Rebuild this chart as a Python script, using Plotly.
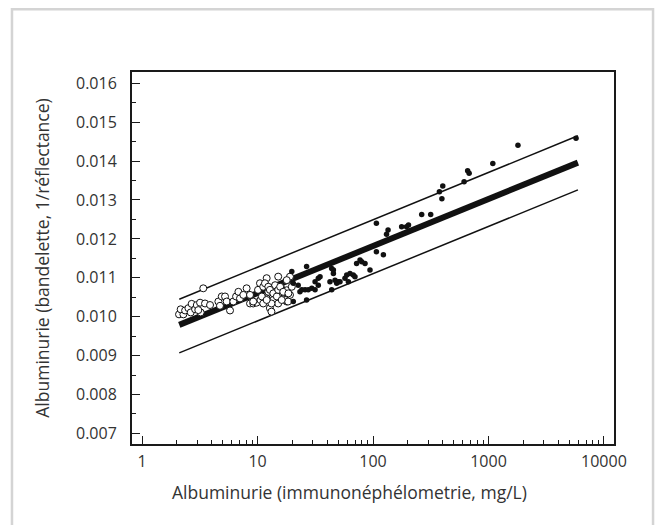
import plotly.graph_objects as go

# Open circles: low albuminuria samples (mg/L, 1/reflectance)
open_x = [2.09, 2.28, 2.16, 2.36, 2.52, 2.69, 2.64, 2.88, 2.98, 3.18, 3.22, 3.51, 3.88, 3.07,
          3.39, 4.58, 4.90, 5.23, 4.73, 5.41, 5.78, 6.17, 6.52, 6.83, 7.05, 7.53, 8.05, 8.61,
          9.18, 9.80, 10.5, 10.6, 11.2, 12.0, 12.4, 12.8, 13.2, 13.7, 14.7, 15.1, 15.9, 16.7,
          17.9, 17.9, 19.1, 12.0, 15.1, 19.1, 17.9, 14.2, 13.2, 17.3, 18.4, 10.1, 11.2, 11.6,
          12.4, 12.8, 13.7, 14.7, 15.1, 15.7, 16.2, 16.7, 18.5, 19.8, 10.9, 8.61, 9.18, 12.0]
open_y = [0.01006, 0.01006, 0.01019, 0.01016, 0.01022, 0.01033, 0.01011, 0.01019, 0.01030,
          0.01036, 0.01011, 0.01034, 0.01030, 0.01017, 0.01073, 0.01039, 0.01052, 0.01052,
          0.01028, 0.01039, 0.01016, 0.01039, 0.01052, 0.01064, 0.01047, 0.01056, 0.01073,
          0.01034, 0.01034, 0.01036, 0.01086, 0.01043, 0.01034, 0.01047, 0.01064, 0.01022,
          0.01013, 0.01043, 0.01064, 0.01034, 0.01077, 0.01047, 0.01068, 0.01039, 0.01056,
          0.01099, 0.01103, 0.01103, 0.01094, 0.01081, 0.01034, 0.01043, 0.01039, 0.01069,
          0.01077, 0.01086, 0.01077, 0.01069, 0.01060, 0.01052, 0.01069, 0.01077, 0.01043,
          0.01064, 0.01060, 0.01077, 0.01052, 0.01056, 0.01039, 0.01043]

# Filled dots: higher albuminuria samples
fill_x = [19.8, 20.4, 22.5, 23.3, 24.2, 25.8, 26.6, 27.5, 29.5, 31.5, 31.5, 33.6, 33.6, 34.8,
          42.4, 43.9, 45.4, 45.4, 46.9, 48.5, 50.1, 51.8, 57.2, 59.2, 61.2, 63.2, 67.5, 69.8,
          72.1, 77.2, 79.8, 85.3, 94.2, 107, 123, 107, 135, 177, 195, 20.4, 26.6, 43.9,
          131, 203, 264, 316, 376, 402, 395, 615, 660, 680, 1090, 1800, 5730]
fill_y = [0.01116, 0.01086, 0.01081, 0.01064, 0.01069, 0.01069, 0.01129, 0.01069, 0.01073,
          0.01090, 0.01069, 0.01099, 0.01081, 0.01103, 0.01090, 0.01124, 0.01120, 0.01111,
          0.01094, 0.01086, 0.01090, 0.01090, 0.01099, 0.01107, 0.01090, 0.01111, 0.01107,
          0.01103, 0.01137, 0.01146, 0.01141, 0.01137, 0.01120, 0.01167, 0.01159, 0.01240,
          0.01223, 0.01231, 0.01231, 0.01039, 0.01043, 0.01069, 0.01212, 0.01236, 0.01263,
          0.01263, 0.01321, 0.01336, 0.01303, 0.01347, 0.01375, 0.01369, 0.01394, 0.01441,
          0.01459]

# Regression line and prediction band
fit_x = [2.1, 5950]
fit_y = [0.00979, 0.01396]
upper_y = [0.01045, 0.01465]
lower_y = [0.00907, 0.01326]

x_ticks = [1, 10, 100, 1000, 10000]
x_ticktext = ["1", "10", "100", "1000", "10000"]
x_minor = [m * 10 ** d for d in range(4) for m in range(2, 10)]
y_ticks = [0.007, 0.008, 0.009, 0.010, 0.011, 0.012, 0.013, 0.014, 0.015, 0.016]

FONT = "Open Sans"
TEXT = "#333333"

fig = go.Figure()
for yy, w in ((upper_y, 1.5), (lower_y, 1.5), (fit_y, 6)):
    fig.add_trace(go.Scatter(x=fit_x, y=yy, mode="lines",
                             line=dict(color="#111111", width=w),
                             hoverinfo="skip"))
fig.add_trace(go.Scatter(x=open_x, y=open_y, mode="markers",
                         marker=dict(symbol="circle", size=7, color="white",
                                     line=dict(color="#111111", width=1))))
fig.add_trace(go.Scatter(x=fill_x, y=fill_y, mode="markers",
                         marker=dict(symbol="circle", size=5.5, color="#111111",
                                     line=dict(width=0))))

axis_common = dict(showline=True, linecolor="#1a1a1a", linewidth=2, mirror=True,
                   showgrid=False, zeroline=False, ticks="inside", ticklen=8,
                   tickwidth=1.3, tickcolor="#1a1a1a",
                   tickfont=dict(family=FONT, size=16, color=TEXT))

fig.update_xaxes(type="log", range=[-0.087, 4.087], tickvals=x_ticks, ticktext=x_ticktext,
                 ticklabelstandoff=2,
                 minor=dict(tickvals=x_minor, ticks="inside", ticklen=4,
                            tickwidth=1.2, tickcolor="#1a1a1a"),
                 **axis_common)
fig.update_yaxes(range=[0.006728, 0.01629], tickvals=y_ticks, tickformat=".3f",
                 ticklabelstandoff=10,
                 minor=dict(dtick=0.0005, ticks="inside", ticklen=4,
                            tickwidth=1.2, tickcolor="#1a1a1a"),
                 title=dict(text="Albuminurie (bandelette, 1/réflectance)", standoff=22,
                            font=dict(family=FONT, size=17.5, color=TEXT)),
                 **axis_common)

# x-axis title, set slightly left of the plot centre
fig.add_annotation(text="Albuminurie (immunonéphélometrie, mg/L)",
                   xref="paper", yref="paper", x=0.452, y=-0.129,
                   xanchor="center", yanchor="middle", showarrow=False,
                   font=dict(family=FONT, size=17.5, color=TEXT))

# light frame around the figure (open at the bottom)
fig.add_shape(type="path", xref="paper", yref="paper",
              path="M -0.249,-0.25 L -0.249,1.169 L 1.081,1.169 L 1.081,-0.25",
              line=dict(color="#d4d4d4", width=2.5), layer="below")

fig.update_layout(width=656, height=525, showlegend=False,
                  margin=dict(l=132, r=42, t=72, b=81),
                  paper_bgcolor="white", plot_bgcolor="white")

fig.write_html("out.html")
